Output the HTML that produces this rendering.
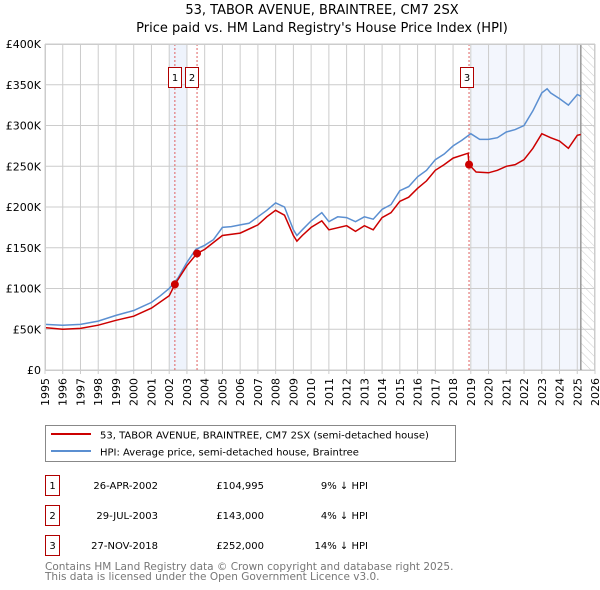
<!DOCTYPE html>
<html><head><meta charset="utf-8"><style>
body{margin:0;background:#fff}
svg{font-family:"DejaVu Sans","Liberation Sans",sans-serif;display:block}
</style></head><body>
<svg id="c" width="600" height="590" viewBox="0 0 600 590" xmlns="http://www.w3.org/2000/svg">
<defs><pattern id="hatch" width="6" height="6" patternUnits="userSpaceOnUse" patternTransform="rotate(-45)"><line x1="0" y1="0" x2="0" y2="6" stroke="#ccc" stroke-width="1"/></pattern></defs>
<text x="322" y="14" text-anchor="middle" font-size="13">53, TABOR AVENUE, BRAINTREE, CM7 2SX</text>
<text x="322" y="32" text-anchor="middle" font-size="13">Price paid vs. HM Land Registry's House Price Index (HPI)</text>
<g id="plot"></g>
<g>
<rect x="45.5" y="425.5" width="410" height="36" fill="#fff" stroke="#888"/>
<line x1="51" y1="434" x2="91" y2="434" stroke="#cc0000" stroke-width="2"/>
<text x="100" y="438.5" font-size="10">53, TABOR AVENUE, BRAINTREE, CM7 2SX (semi-detached house)</text>
<line x1="51" y1="451" x2="91" y2="451" stroke="#5b8fd1" stroke-width="2"/>
<text x="100" y="455.5" font-size="10">HPI: Average price, semi-detached house, Braintree</text>
</g>
<g id="tbl" font-size="10"></g>
<text x="45" y="570" font-size="10.5" fill="#777">Contains HM Land Registry data © Crown copyright and database right 2025.</text>
<text x="45" y="580" font-size="10.5" fill="#777">This data is licensed under the Open Government Licence v3.0.</text>
</svg>
<script>
const hpiYears=[1995,1996,1997,1998,1999,2000,2000.5,2001,2001.5,2002,2002.5,2003,2003.5,2004,2004.5,2005,2005.5,2006,2006.5,2007,2007.5,2008,2008.5,2009,2009.2,2009.5,2010,2010.6,2011,2011.5,2012,2012.5,2013,2013.5,2014,2014.5,2015,2015.5,2016,2016.5,2017,2017.5,2018,2018.5,2019,2019.5,2020,2020.5,2021,2021.5,2022,2022.5,2023,2023.3,2023.5,2024,2024.5,2025,2025.2];
const hpiValues=[56,55,56,60,67,73,78,83,91,100,113,132,148,153,160,175,176,178,180,188,196,205,200,172,165,172,183,193,182,188,187,182,188,185,197,203,220,225,237,245,258,265,275,282,290,283,283,285,292,295,300,318,340,345,340,333,325,338,336];
const priceYears=[1995,1996,1997,1998,1999,2000,2001,2002,2002.32,2003,2003.57,2004,2005,2006,2007,2007.5,2008,2008.5,2009,2009.2,2009.5,2010,2010.6,2011,2012,2012.5,2013,2013.5,2014,2014.5,2015,2015.5,2016,2016.5,2017,2017.5,2018,2018.85,2018.9,2019.3,2020,2020.5,2021,2021.5,2022,2022.5,2023,2023.5,2024,2024.5,2025,2025.2];
const priceValues=[52,50,51,55,61,66,76,91,105,128,143,148,165,168,178,188,196,190,165,158,165,175,183,172,177,170,177,172,187,193,207,212,223,232,245,252,260,266,252,243,242,245,250,252,258,272,290,285,281,272,288,289];
const saleYears=[2002.32,2003.57,2018.9];
const saleValues=[104.995,143,252];
const saleLabels=["1","2","3"];
const saleDates=["26-APR-2002","29-JUL-2003","27-NOV-2018"];
const salePrices=["£104,995","£143,000","£252,000"];
const saleDiffs=["9% ↓ HPI","4% ↓ HPI","14% ↓ HPI"];
const yTicks=[0,50,100,150,200,250,300,350,400];
const yTickLabels=["£0","£50K","£100K","£150K","£200K","£250K","£300K","£350K","£400K"];
const xTicks=[1995,1996,1997,1998,1999,2000,2001,2002,2003,2004,2005,2006,2007,2008,2009,2010,2011,2012,2013,2014,2015,2016,2017,2018,2019,2020,2021,2022,2023,2024,2025,2026];

const NS="http://www.w3.org/2000/svg";
const X0=45,X1=595,Y0=370,Y1=44;
const x=v=>X0+(v-1995)*(X1-X0)/31;
const y=v=>Y0-v*(Y0-Y1)/400;
const plot=document.getElementById('plot');
function mk(tag,attrs,parent){const e=document.createElementNS(NS,tag);for(const k in attrs)e.setAttribute(k,attrs[k]);(parent||plot).appendChild(e);return e;}
let e;
e=mk('rect',{x:169,y:Y1,width:18,height:Y0-Y1,fill:'#eef3fc'});


e=mk('rect',{x:x(2018.9)+2,y:Y1,width:x(2025.2)-x(2018.9)-2,height:Y0-Y1,fill:'#f3f6fd'});


e=mk('rect',{x:x(2025.2),y:Y1,width:X1-x(2025.2),height:Y0-Y1,fill:'url(#hatch)'});


xTicks.forEach(t=>{
 e=mk('line',{x1:x(t),y1:Y1,x2:x(t),y2:Y0+4,stroke:'#ccc','stroke-width':1});
 
 
 e=mk('text',{x:0,y:0,transform:`translate(${x(t)+4},${Y0+8}) rotate(-90)`,'text-anchor':'end','font-size':11});
 e.textContent=t;
 
 
});
yTicks.forEach((t,i)=>{
 e=mk('line',{x1:X0,y1:y(t),x2:X1,y2:y(t),stroke:'#ccc','stroke-width':1});
 
 
 e=mk('text',{x:X0-4,y:y(t)+4,'text-anchor':'end','font-size':11});
 e.textContent=yTickLabels[i];
 
 
});
e=mk('line',{x1:x(2025.2),y1:Y1,x2:x(2025.2),y2:Y0,stroke:'#999','stroke-width':1.5});


saleYears.forEach((s,i)=>{
 e=mk('line',{x1:x(s),y1:Y1,x2:x(s),y2:Y0,stroke:'#e06060','stroke-width':1,'stroke-dasharray':'2,2'});
 
 
});
const pts=(xs,vs)=>xs.map((t,i)=>x(t).toFixed(1)+','+y(vs[i]).toFixed(1)).join(' ');
e=mk('polyline',{points:pts(hpiYears,hpiValues),fill:'none',stroke:'#5b8fd1','stroke-width':1.5});


e=mk('polyline',{points:pts(priceYears,priceValues),fill:'none',stroke:'#cc0000','stroke-width':1.5});


saleYears.forEach((s,i)=>{
 e=mk('circle',{cx:x(s),cy:y(saleValues[i]),r:4,fill:'#cc0000'});
 
 
 const bx=[168,185,460][i];
 e=mk('rect',{x:bx+0.5,y:67.5,width:13,height:20,fill:'#fff',stroke:'#b00000'});
 
 
 e=mk('text',{x:bx+7,y:81,'text-anchor':'middle','font-size':10});
 e.textContent=saleLabels[i];
 
 
});
e=mk('rect',{x:X0+0.5,y:Y1+0.5,width:X1-X0-1,height:Y0-Y1,fill:'none',stroke:'#ccc'});
const tbl=document.getElementById('tbl');
saleYears.forEach((s,i)=>{
 const ry=475+i*30;
 e=mk('rect',{x:45.5,y:ry+0.5,width:14,height:20,fill:'#fff',stroke:'#b00000'},tbl);
 
 
 e=mk('text',{x:52.5,y:ry+14,'text-anchor':'middle'},tbl);e.textContent=saleLabels[i];
 
 
 e=mk('text',{x:158,y:ry+14,'text-anchor':'end'},tbl);e.textContent=saleDates[i];
 
 
 e=mk('text',{x:264,y:ry+14,'text-anchor':'end'},tbl);e.textContent=salePrices[i];
 
 
 e=mk('text',{x:368,y:ry+14,'text-anchor':'end'},tbl);e.textContent=saleDiffs[i];
 
 
});
</script>
</body></html>
